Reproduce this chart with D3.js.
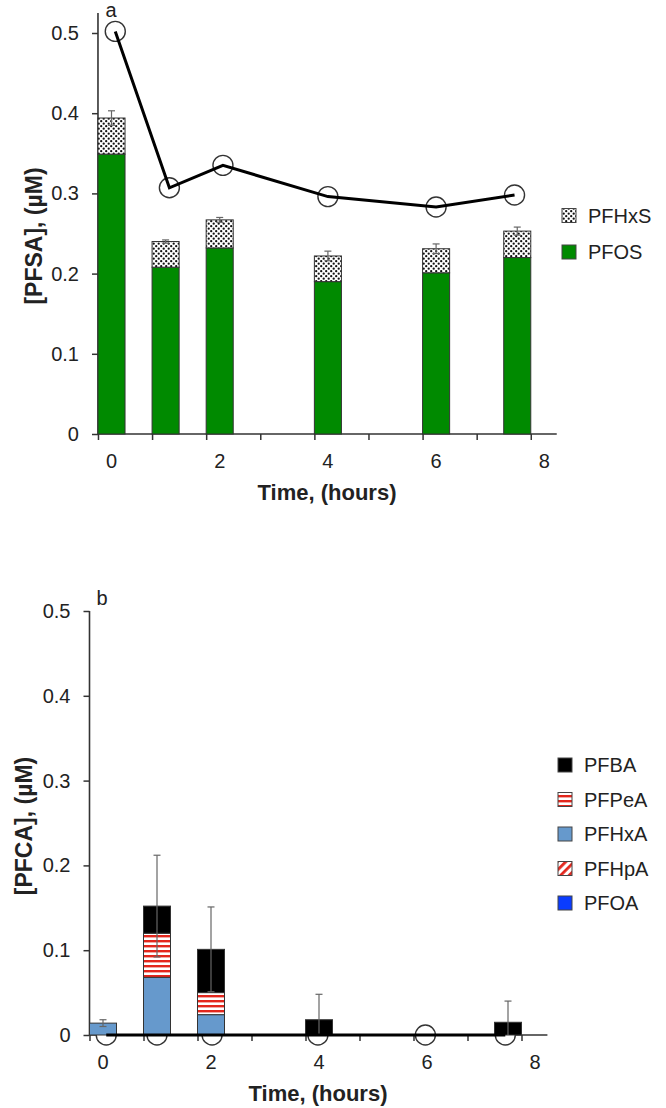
<!DOCTYPE html>
<html><head><meta charset="utf-8">
<script src="https://cdn.jsdelivr.net/npm/d3@7"></script>
<style>
body{margin:0;background:#fff;}
text{font-family:"Liberation Sans",Arial,Helvetica,sans-serif;fill:#222;}
</style></head>
<body>
<script>
// ---------- data ----------
const times = [0, 1, 2, 4, 6, 7.5];
const xTickLabels = [0, 2, 4, 6, 8];
const yTickValues = [0, 0.1, 0.2, 0.3, 0.4, 0.5];

// panel a (PFSA)
const lineTimesA = [0.07, 1.07, 2.06, 4, 6, 7.45];
const pfsaLine = [0.502, 0.307, 0.335, 0.296, 0.283, 0.298];
const pfos = [0.349, 0.208, 0.232, 0.190, 0.201, 0.220];
const pfhxs = [0.045, 0.032, 0.035, 0.032, 0.030, 0.033];
const pfsaErr = [0.009, 0.002, 0.003, 0.006, 0.006, 0.005];
const seriesA = ["PFOS", "PFHxS"];

// panel b (PFCA)
const lineTimesB = [0.06, 1.0, 2.02, 3.98, 5.97, 7.45];
const pfcaLine = [0, 0, 0, 0, 0, 0];
const pfoa = [0, 0, 0, 0, 0, 0];
const pfhpa = [0, 0, 0, 0, 0, 0];
const pfhxa = [0.014, 0.068, 0.024, 0, 0, 0];
const pfpea = [0, 0.052, 0.026, 0, 0, 0];
const pfba = [0, 0.032, 0.051, 0.018, 0, 0.015];
const pfcaErr = [0.004, 0.060, 0.050, 0.030, 0, 0.025];
const seriesB = ["PFOA", "PFHpA", "PFHxA", "PFPeA", "PFBA"];

// ---------- setup ----------
const W = 666, H = 1108;
const svg = d3.select("body").append("svg").attr("width", W).attr("height", H);
svg.append("rect").attr("width", W).attr("height", H).attr("fill", "#fff");
const defs = svg.append("defs");

// dotted pattern
const pd = defs.append("pattern").attr("id", "dots").attr("patternUnits", "userSpaceOnUse")
  .attr("width", 5).attr("height", 5);
pd.append("rect").attr("width", 5).attr("height", 5).attr("fill", "#fff");
pd.append("circle").attr("cx", 1.2).attr("cy", 1.2).attr("r", 1.15).attr("fill", "#111");
pd.append("circle").attr("cx", 3.7).attr("cy", 3.7).attr("r", 1.15).attr("fill", "#111");
// horizontal stripes
const ph = defs.append("pattern").attr("id", "hstripe").attr("patternUnits", "userSpaceOnUse")
  .attr("width", 5).attr("height", 5);
ph.append("rect").attr("width", 5).attr("height", 5).attr("fill", "#fff");
ph.append("rect").attr("y", 0).attr("width", 5).attr("height", 2.4).attr("fill", "#e3261c");
// diagonal stripes
const pg = defs.append("pattern").attr("id", "dstripe").attr("patternUnits", "userSpaceOnUse")
  .attr("width", 6).attr("height", 6).attr("patternTransform", "rotate(45)");
pg.append("rect").attr("width", 6).attr("height", 6).attr("fill", "#fff");
pg.append("rect").attr("width", 2.8).attr("height", 6).attr("fill", "#e3261c");

const fills = {
  PFOS: "#008a00", PFHxS: "url(#dots)",
  PFOA: "#0a3cff", PFHpA: "url(#dstripe)", PFHxA: "#6699cc", PFPeA: "url(#hstripe)", PFBA: "#000"
};

function panel(opt) {
  const g = svg.append("g");
  const x = d3.scaleLinear().domain([0, 8]).range(opt.xr);
  const y = d3.scaleLinear().domain([0, 0.5]).range(opt.yr);
  const y0 = y(0);

  // y axis
  const yAx = g.append("g").attr("transform", `translate(${x(-0.25)},0)`)
    .call(d3.axisLeft(y).tickValues(yTickValues).tickSize(6).tickPadding(13)
      .tickFormat(d => d === 0 ? "0" : d3.format(".1f")(d)));
  yAx.select(".domain").remove();
  yAx.selectAll(".tick line").attr("stroke", "#333").attr("stroke-width", 1.5);
  yAx.selectAll("text").style("font-size", "20px").attr("fill", "#222")
    .style("font-family", '"Liberation Sans",Arial,sans-serif');
  g.append("line").attr("x1", x(-0.25)).attr("x2", x(-0.25))
    .attr("y1", y0).attr("y2", y(opt.yTop)).attr("stroke", "#333").attr("stroke-width", 1.6);

  // x axis
  const xTicks = d3.range(0, 9).map(k => k - 0.25);
  const xAx = g.append("g").attr("transform", `translate(0,${y0})`)
    .call(d3.axisBottom(x).tickValues(xTicks).tickSize(6).tickFormat(""));
  xAx.select(".domain").remove();
  xAx.selectAll(".tick line").attr("stroke", "#333").attr("stroke-width", 1.5);
  g.append("line").attr("x1", x(-0.25)).attr("x2", x(8.23))
    .attr("y1", y0).attr("y2", y0).attr("stroke", "#333").attr("stroke-width", 1.6);
  g.selectAll(".xl").data(xTickLabels).join("text")
    .attr("x", d => x(d)).attr("y", y0 + 34).attr("text-anchor", "middle")
    .style("font-size", "20px").text(d => d);

  // titles
  g.append("text").attr("transform", `translate(${opt.ytx},${opt.yty}) rotate(-90)`)
    .attr("text-anchor", "middle").attr("dominant-baseline", "central")
    .style("font-size", "23px").style("font-weight", "bold").text(opt.ytitle);
  g.append("text").attr("x", opt.xtx).attr("y", y0 + 66).attr("text-anchor", "middle")
    .style("font-size", "22px").style("font-weight", "bold").text("Time, (hours)");
  g.append("text").attr("x", opt.lab[0]).attr("y", opt.lab[1]).attr("text-anchor", "middle")
    .style("font-size", "20px").text(opt.label);

  // circles of line series first
  const pts = opt.lineT.map((t, i) => [x(t), y(opt.lineV[i])]);
  const circ = g.append("g");
  circ.selectAll("circle").data(pts).join("circle")
    .attr("cx", d => d[0]).attr("cy", d => d[1]).attr("r", 10)
    .attr("fill", "#fff").attr("stroke", "#333").attr("stroke-width", 1.4);

  // stacked bars
  const rows = times.map((t, i) => {
    const r = { t };
    opt.series.forEach(s => r[s] = opt.vals[s][i]);
    return r;
  });
  const stack = d3.stack().keys(opt.series)(rows);
  const bw = x(0.25) - x(-0.25);
  stack.forEach(layer => {
    g.append("g").selectAll("rect").data(layer.filter(d => d[1] - d[0] > 0)).join("rect")
      .attr("x", d => x(d.data.t) - bw / 2).attr("width", bw)
      .attr("y", d => y(d[1])).attr("height", d => y(d[0]) - y(d[1]))
      .attr("fill", fills[layer.key]).attr("stroke", "#333").attr("stroke-width", 1);
  });

  // error bars
  const tops = rows.map(r => opt.series.reduce((a, s) => a + r[s], 0));
  const eg = g.append("g").attr("stroke", "#666").attr("stroke-width", 1.2);
  times.forEach((t, i) => {
    const e = opt.err[i];
    if (!e) return;
    const cx = x(t), hi = tops[i] + e, lo = Math.max(0, tops[i] - e);
    eg.append("line").attr("x1", cx).attr("x2", cx).attr("y1", y(hi)).attr("y2", y(lo));
    eg.append("line").attr("x1", cx - 3.5).attr("x2", cx + 3.5).attr("y1", y(hi)).attr("y2", y(hi));
    if (tops[i] - e > 0)
      eg.append("line").attr("x1", cx - 3.5).attr("x2", cx + 3.5).attr("y1", y(lo)).attr("y2", y(lo));
  });

  // line on top
  g.append("path").datum(pts).attr("d", d3.line()).attr("fill", "none")
    .attr("stroke", "#000").attr("stroke-width", 3);

  // legend
  const lg = g.append("g");
  opt.legend.forEach((s, i) => {
    const cy = opt.legY + i * opt.legDy;
    lg.append("rect").attr("x", opt.legX).attr("y", cy - 7).attr("width", 14).attr("height", 14)
      .attr("fill", fills[s]).attr("stroke", "#444").attr("stroke-width", 1);
    lg.append("text").attr("x", opt.legX + 26).attr("y", cy).attr("dominant-baseline", "central")
      .style("font-size", "20px").text(s);
  });
}

panel({
  xr: [111.5, 111.5 + 54.1 * 8], yr: [434, 33], yTop: 0.525,
  series: seriesA, vals: { PFOS: pfos, PFHxS: pfhxs }, err: pfsaErr,
  lineT: lineTimesA, lineV: pfsaLine,
  ytitle: "[PFSA], (µM)", ytx: 34, yty: 236, xtx: 327,
  label: "a", lab: [111, 17],
  legend: ["PFHxS", "PFOS"], legX: 562, legY: 215.5, legDy: 36.5
});

panel({
  xr: [103, 103 + 54 * 8], yr: [1035, 611], yTop: 0.5,
  series: seriesB, vals: { PFOA: pfoa, PFHpA: pfhpa, PFHxA: pfhxa, PFPeA: pfpea, PFBA: pfba }, err: pfcaErr,
  lineT: lineTimesB, lineV: pfcaLine,
  ytitle: "[PFCA], (µM)", ytx: 24, yty: 826, xtx: 318,
  label: "b", lab: [102, 605],
  legend: ["PFBA", "PFPeA", "PFHxA", "PFHpA", "PFOA"], legX: 558, legY: 765, legDy: 34.5
});
</script>
</body></html>
